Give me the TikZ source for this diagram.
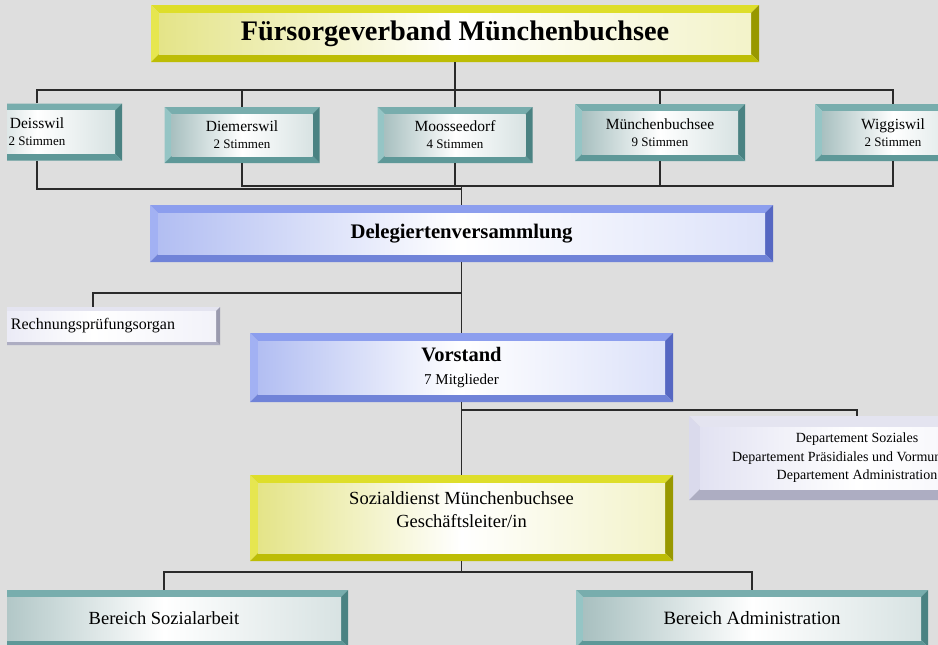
\documentclass[tikz,border=0pt]{standalone}
\usepackage{fontspec}
\setmainfont{Liberation Serif}
\definecolor{bgc}{HTML}{DEDEDE}
\definecolor{linec}{HTML}{2A2A2A}
\definecolor{yT}{HTML}{DEDE2A}
\definecolor{yL}{HTML}{E6E650}
\definecolor{yR}{HTML}{989800}
\definecolor{yB}{HTML}{BDBD05}
\definecolor{yI}{HTML}{E4E488}
\definecolor{bT}{HTML}{8C9EEE}
\definecolor{bL}{HTML}{A2B1F3}
\definecolor{bR}{HTML}{5667C2}
\definecolor{bB}{HTML}{7083D8}
\definecolor{bI}{HTML}{B2BEF2}
\definecolor{tT}{HTML}{78ADAD}
\definecolor{tL}{HTML}{95C5C5}
\definecolor{tR}{HTML}{4A8282}
\definecolor{tB}{HTML}{5E9898}
\definecolor{tI}{HTML}{A8C0C0}
\definecolor{lT}{HTML}{E4E4F0}
\definecolor{lL}{HTML}{DADAEC}
\definecolor{lR}{HTML}{9A9AAE}
\definecolor{lB}{HTML}{ADADC2}
\definecolor{lI}{HTML}{E2E2F2}
\newcommand\bevelfill[6]{%
  \coordinate (bNW) at (path picture bounding box.north west);
  \coordinate (bNE) at (path picture bounding box.north east);
  \coordinate (bSW) at (path picture bounding box.south west);
  \coordinate (bSE) at (path picture bounding box.south east);
  \fill[#2] (bNW) -- (bNE) -- ([xshift=-#1,yshift=-#1]bNE) -- ([xshift=#1,yshift=-#1]bNW) -- cycle;
  \fill[#3] (bNW) -- ([xshift=#1,yshift=-#1]bNW) -- ([xshift=#1,yshift=#1]bSW) -- (bSW) -- cycle;
  \fill[#4] (bNE) -- (bSE) -- ([xshift=-#1,yshift=#1]bSE) -- ([xshift=-#1,yshift=-#1]bNE) -- cycle;
  \fill[#5] (bSW) -- (bSE) -- ([xshift=-#1,yshift=#1]bSE) -- ([xshift=#1,yshift=#1]bSW) -- cycle;
  \shade[left color=#6, right color=#6!45!white, middle color=white]
    ([xshift=#1,yshift=-#1]bNW) rectangle ([xshift=-#1,yshift=#1]bSE);
}
\tikzset{
  bev/.style n args={6}{path picture={\bevelfill{#1}{#2}{#3}{#4}{#5}{#6}}},
  sz/.style 2 args={minimum width=#1pt, minimum height=#2pt, inner sep=0pt, align=center, text=black},
  yellowbox/.style={bev={8pt}{yT}{yL}{yR}{yB}{yI}},
  bluebox/.style={bev={8pt}{bT}{bL}{bR}{bB}{bI}},
  tealbox/.style={bev={7pt}{tT}{tL}{tR}{tB}{tI}, font=\fontsize{15.5}{15}\selectfont},
  lavbox/.style={bev={#1}{lT}{lL}{lR}{lB}{lI}},
  conn/.style={draw=linec, line width=1.1pt},
}
\newcommand\stimfont{\fontsize{13}{15}\selectfont}
\begin{document}
\begin{tikzpicture}[x=1pt, y=-1pt]
\useasboundingbox (0,0) rectangle (938,645);
\fill[bgc] (0,0) rectangle (938,645);
\begin{scope}
\clip (7,0) rectangle (938,645);
% nodes
\node[yellowbox, sz={608}{57}, font=\fontsize{28.3}{30}\selectfont\bfseries] (top) at (455,33.5) {Fürsorgeverband Münchenbuchsee};
\node[tealbox, sz={170}{57}] (deiss) at (37,132) {Deisswil\\[2pt]{\stimfont 2 Stimmen}};
\node[tealbox, sz={155}{56}] (diem) at (242,135) {Diemerswil\\[2pt]{\stimfont 2 Stimmen}};
\node[tealbox, sz={155}{56}] (moos) at (455,135) {Moosseedorf\\[2pt]{\stimfont 4 Stimmen}};
\node[tealbox, sz={170}{57}] (munch) at (660,132.5) {Münchenbuchsee\\[2pt]{\stimfont 9 Stimmen}};
\node[tealbox, sz={156}{57}] (wigg) at (893,132.5) {Wiggiswil\\[2pt]{\stimfont 2 Stimmen}};
\node[bluebox, sz={623}{57}, font=\fontsize{20.7}{22}\selectfont\bfseries] (deleg) at (461.5,233.5) {Delegiertenversammlung};
\node[lavbox=4pt, sz={254}{38}, font=\fontsize{16}{17}\selectfont] (rech) at (93,326) {Rechnungsprüfungsorgan};
\node[bluebox, sz={423}{69}, font=\fontsize{20.5}{22}\selectfont] (vor) at (461.5,367.5) {\textbf{Vorstand}\\[1pt]{\fontsize{15}{16}\selectfont 7 Mitglieder}};
\node[lavbox=11pt, sz={336}{84}, font=\fontsize{14}{18.5}\selectfont] (dep) at (857,458) {Departement Soziales\\Departement Präsidiales und Vormundschaft\\Departement Administration};
\node[yellowbox, sz={423}{86},
  label={[font=\fontsize{18.5}{23}\selectfont, align=center, yshift=8pt]center:Sozialdienst Münchenbuchsee\\Geschäftsleiter/in}] (soz) at (461.5,518) {};
\node[tealbox, sz={368}{57}, font=\fontsize{18.5}{20}\selectfont] (bsoz) at (164,618.5) {Bereich Sozialarbeit};
\node[tealbox, sz={352}{57}, font=\fontsize{18.8}{20}\selectfont] (badm) at (752,618.5) {Bereich Administration};
% bus coordinates
\coordinate (busT) at (0,90);
\coordinate (busA) at (0,186);
\coordinate (busB) at (0,189);
\coordinate (busR) at (0,293);
\coordinate (busD) at (0,410);
\coordinate (busS) at (0,572);
% connectors
\draw[conn] (top.south) -- (top.south |- busT);
\draw[conn] (deiss.north) -- (deiss.north |- busT) -- (wigg.north |- busT) -- (wigg.north);
\foreach \n in {diem,moos,munch} \draw[conn] (\n.north) -- (\n.north |- busT);
\draw[conn] (diem.south) -- (diem.south |- busA) -- (wigg.south |- busA) -- (wigg.south);
\draw[conn] (moos.south) -- (moos.south |- busA);
\draw[conn] (munch.south) -- (munch.south |- busA);
\draw[conn] (deiss.south) -- (deiss.south |- busB) -- (deleg.north |- busB);
\draw[conn] (deleg.north |- busA) -- (deleg.north);
\draw[conn] (deleg.south) -- (vor.north);
\draw[conn] (rech.north) -- (rech.north |- busR) -- (deleg.south |- busR);
\draw[conn] (vor.south) -- (soz.north);
\draw[conn] (dep.north) -- (dep.north |- busD) -- (vor.south |- busD);
\draw[conn] (soz.south) -- (soz.south |- busS);
\draw[conn] (bsoz.north) -- (bsoz.north |- busS) -- (badm.north |- busS) -- (badm.north);
\end{scope}
\end{tikzpicture}
\end{document}
